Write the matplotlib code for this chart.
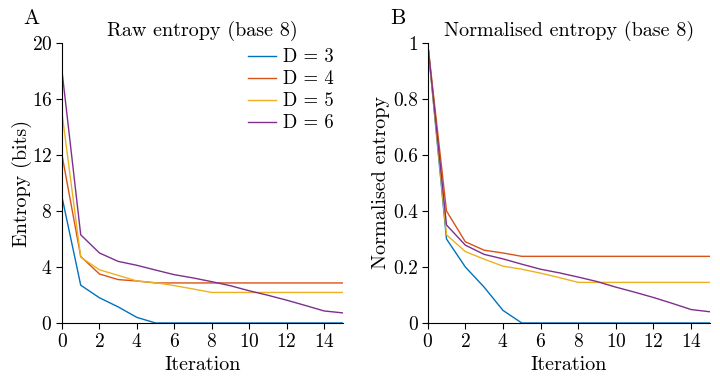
import matplotlib
matplotlib.use("Agg")
import matplotlib.pyplot as plt

plt.rcParams['font.family'] = 'serif'
plt.rcParams['font.serif'] = ['cmr10']
plt.rcParams['mathtext.fontset'] = 'cm'
plt.rcParams['axes.formatter.use_mathtext'] = True

iterations = list(range(16))
labels = ["D = 3", "D = 4", "D = 5", "D = 6"]
colors = ["#0072BD", "#D95319", "#EDB120", "#7E2F8E"]

raw_d3 = [9, 2.7, 1.8, 1.15, 0.4, 0, 0, 0, 0, 0, 0, 0, 0, 0, 0, 0]
raw_d4 = [12, 4.75, 3.5, 3.1, 3.0, 2.86, 2.86, 2.86, 2.86, 2.86, 2.86, 2.86, 2.86, 2.86, 2.86, 2.86]
raw_d5 = [15, 4.7, 3.8, 3.4, 3.0, 2.88, 2.67, 2.43, 2.18, 2.18, 2.18, 2.18, 2.18, 2.18, 2.18, 2.18]
raw_d6 = [18, 6.3, 5.0, 4.4, 4.12, 3.78, 3.45, 3.22, 2.95, 2.66, 2.3, 1.98, 1.63, 1.25, 0.86, 0.72]

norm_d3 = [1, 0.30, 0.20, 0.128, 0.045, 0, 0, 0, 0, 0, 0, 0, 0, 0, 0, 0]
norm_d4 = [1, 0.40, 0.29, 0.26, 0.25, 0.238, 0.238, 0.238, 0.238, 0.238, 0.238, 0.238, 0.238, 0.238, 0.238, 0.238]
norm_d5 = [1, 0.315, 0.255, 0.228, 0.203, 0.192, 0.178, 0.162, 0.145, 0.145, 0.145, 0.145, 0.145, 0.145, 0.145, 0.145]
norm_d6 = [1, 0.35, 0.278, 0.245, 0.229, 0.21, 0.192, 0.179, 0.164, 0.148, 0.128, 0.11, 0.091, 0.07, 0.048, 0.04]

raw_series = [raw_d3, raw_d4, raw_d5, raw_d6]
norm_series = [norm_d3, norm_d4, norm_d5, norm_d6]

fig = plt.figure(figsize=(7.2, 3.79), dpi=100)
axA = fig.add_axes([0.0861, 0.1478, 0.390, 0.7388])
axB = fig.add_axes([0.594, 0.1478, 0.392, 0.7388])

for ax in (axA, axB):
    ax.spines['top'].set_visible(False)
    ax.spines['right'].set_visible(False)
    ax.tick_params(direction='out', length=4, labelsize=14, pad=3)
    ax.set_xlim(0, 15)
    ax.set_xticks([0, 2, 4, 6, 8, 10, 12, 14])
    ax.set_xlabel("Iteration", fontsize=14.5, labelpad=4)

for s, lab, c in zip(raw_series, labels, colors):
    axA.plot(iterations, s, color=c, lw=1.0, label=lab)
axA.set_ylim(0, 20)
axA.set_yticks([0, 4, 8, 12, 16, 20])
axA.set_ylabel("Entropy (bits)", fontsize=14.5, labelpad=0)
axA.set_title("Raw entropy (base 8)", fontsize=14.5, pad=5)
leg = axA.legend(loc='upper right', frameon=False, fontsize=13.5, handlelength=1.5,
                 handletextpad=0.4, labelspacing=0.22, borderaxespad=0.0,
                 bbox_to_anchor=(0.995, 1.008))

for s, lab, c in zip(norm_series, labels, colors):
    axB.plot(iterations, s, color=c, lw=1.0)
axB.set_ylim(0, 1)
axB.set_yticks([0, 0.2, 0.4, 0.6, 0.8, 1])
axB.set_yticklabels(["0", "0.2", "0.4", "0.6", "0.8", "1"])
axB.set_ylabel("Normalised entropy", fontsize=14.5, labelpad=2)
axB.set_title("Normalised entropy (base 8)", fontsize=14.5, pad=5)

fig.text(0.044, 0.952, "A", fontsize=15.5, va='center', ha='center')
fig.text(0.552, 0.952, "B", fontsize=15.5, va='center', ha='center')

fig.savefig("out.png", dpi=100)
